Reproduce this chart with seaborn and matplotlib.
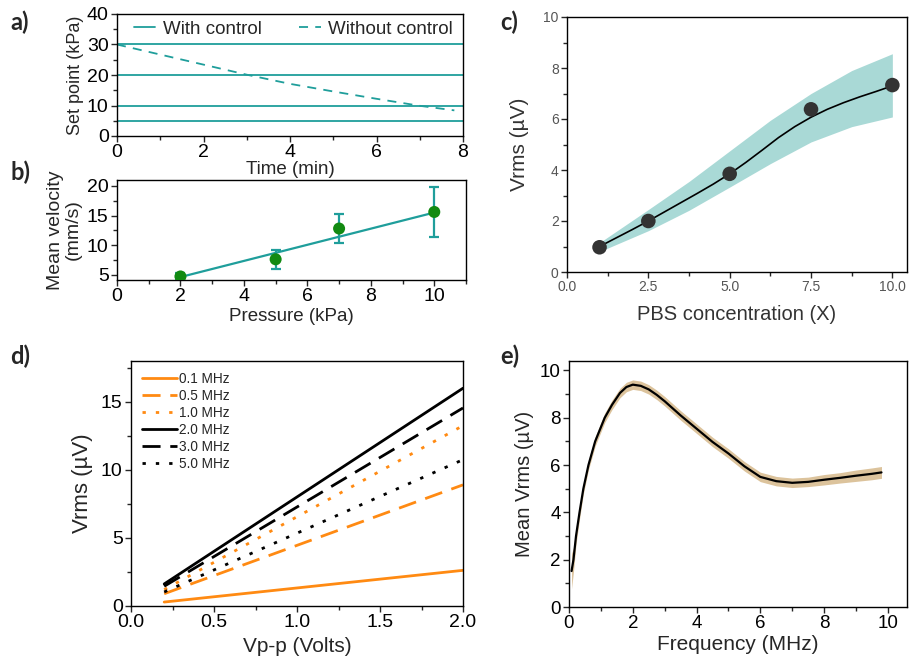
import numpy as np
import pandas as pd
import seaborn as sns
import matplotlib.pyplot as plt
from matplotlib.ticker import MultipleLocator

# ------------------ DATA ------------------
# a) set point vs time
set_points = [30, 20, 10, 5]
time_range = [0, 8]
nocontrol_t = [0, 1, 2, 3, 4, 5, 6, 7, 7.8]
nocontrol_p = [30, 26.7, 23.4, 20.1, 17.1, 14.6, 12.2, 9.9, 8.4]

# b) mean velocity vs pressure
pressure = [2, 5, 7, 10]
velocity = [4.7, 7.6, 12.8, 15.6]
velocity_err = [0.5, 1.6, 2.4, 4.2]
fit_x = [2, 10]
fit_y = [4.6, 15.5]

# c) Vrms vs PBS concentration
pbs_x = [1, 2.5, 5, 7.5, 10]
pbs_y = [0.97, 2.0, 3.85, 6.38, 7.33]
pbs_curve_x = [1, 1.5, 2, 2.5, 3, 3.5, 4, 4.5, 5, 5.5, 6, 6.5, 7, 7.5, 8, 8.5, 9, 9.5, 10]
pbs_curve_y = [1.0, 1.33, 1.66, 2.0, 2.36, 2.72, 3.08, 3.45, 3.85, 4.3, 4.78, 5.27, 5.7, 6.07,
               6.38, 6.64, 6.87, 7.08, 7.3]
pbs_band_x = [1, 2.5, 3.75, 5, 6.25, 7.5, 8.75, 10]
pbs_band_lo = [0.8, 1.62, 2.42, 3.33, 4.25, 5.1, 5.7, 6.08]
pbs_band_hi = [1.15, 2.45, 3.55, 4.75, 5.95, 7.0, 7.9, 8.56]

# d) Vrms vs Vp-p for several frequencies
vpp = [0.2, 2.0]
freq_labels = ['0.1 MHz', '0.5 MHz', '1.0 MHz', '2.0 MHz', '3.0 MHz', '5.0 MHz']
vrms_start = [0.29, 0.9, 1.2, 1.62, 1.45, 1.03]
vrms_end = [2.62, 8.9, 13.25, 16.0, 14.55, 10.75]

# e) mean Vrms vs frequency
freq = [0.08, 0.14, 0.22, 0.33, 0.45, 0.61, 0.82, 1.12, 1.35, 1.6, 1.8, 2.0, 2.25, 2.5, 2.75,
        3.0, 3.5, 4.0, 4.5, 5.0, 5.5, 6.0, 6.5, 7.0, 7.5, 8.0, 8.5, 9.0, 9.5, 9.8]
mean_vrms = [1.52, 2.0, 3.0, 4.0, 5.0, 6.0, 7.0, 8.0, 8.55, 9.05, 9.3, 9.4, 9.35, 9.2, 8.97,
             8.7, 8.1, 7.54, 6.98, 6.49, 5.95, 5.5, 5.32, 5.25, 5.29, 5.38, 5.46, 5.55, 5.63, 5.69]
vrms_err = [0.75, 0.5, 0.35, 0.28, 0.22, 0.2, 0.2, 0.2, 0.2, 0.2, 0.2, 0.2, 0.2, 0.2, 0.2,
            0.2, 0.2, 0.2, 0.2, 0.2, 0.2, 0.2, 0.2, 0.2, 0.2, 0.22, 0.22, 0.24, 0.25, 0.25]

# ------------------ STYLE ------------------
sns.set_style('ticks')
plt.rcParams['font.family'] = ['Liberation Sans', 'DejaVu Sans']
plt.rcParams['xtick.direction'] = 'out'
plt.rcParams['ytick.direction'] = 'out'

TEAL = '#1f9e9b'
ORANGE = '#ff8a12'
W, H = 909, 666
fig = plt.figure(figsize=(W / 100, H / 100), dpi=100)


def rect(l, t, r, b):
    return [l / W, 1 - b / H, (r - l) / W, (b - t) / H]


def style_axes(ax, size=13.5, color='black'):
    for s in ax.spines.values():
        s.set_visible(True)
        s.set_color('black')
        s.set_linewidth(1.0)
    ax.tick_params(which='major', length=4, width=1, labelsize=size, labelcolor=color, pad=2)
    ax.tick_params(which='minor', length=3, width=1, bottom=True, left=True)


# ------------------ a) ------------------
ax = fig.add_axes(rect(117, 14, 463, 136))
for i, sp in enumerate(set_points):
    sns.lineplot(x=time_range, y=[sp, sp], ax=ax, color=TEAL, lw=1.3,
                 label='With control' if i == 0 else None)
sns.lineplot(x=nocontrol_t, y=nocontrol_p, ax=ax, color=TEAL, lw=1.3,
             linestyle=(0, (5, 4)), label='Without control')
ax.set_xlim(0, 8)
ax.set_ylim(0, 40)
ax.xaxis.set_major_locator(MultipleLocator(2))
ax.xaxis.set_minor_locator(MultipleLocator(1))
ax.yaxis.set_major_locator(MultipleLocator(10))
ax.yaxis.set_minor_locator(MultipleLocator(5))
style_axes(ax, 14)
ax.set_xlabel('Time (min)', fontsize=13.5, labelpad=0)
ax.set_ylabel('Set point (kPa)', fontsize=13, labelpad=2)
ax.legend(loc='upper center', ncol=2, frameon=False, fontsize=13.5, handlelength=1.15,
          handletextpad=0.4, columnspacing=2.0, borderaxespad=0.1, bbox_to_anchor=(0.51, 1.02))

# ------------------ b) ------------------
ax = fig.add_axes(rect(117, 180, 466, 280))
sns.lineplot(x=fit_x, y=fit_y, ax=ax, color=TEAL, lw=1.6)
ax.errorbar(pressure, velocity, yerr=velocity_err, fmt='none', ecolor=TEAL,
            elinewidth=1.6, capsize=3.5, capthick=1.6)
sns.scatterplot(x=pressure, y=velocity, ax=ax, color='#128a12', s=75, edgecolor='none', zorder=3)
ax.set_xlim(0, 11)
ax.set_ylim(4.1, 21)
ax.xaxis.set_major_locator(MultipleLocator(2))
ax.xaxis.set_minor_locator(MultipleLocator(1))
ax.yaxis.set_major_locator(MultipleLocator(5))
ax.yaxis.set_minor_locator(MultipleLocator(2.5))
style_axes(ax, 14)
ax.set_xlabel('Pressure (kPa)', fontsize=13.5, labelpad=2)
ax.set_ylabel('Mean velocity\n(mm/s)', fontsize=14, labelpad=4, linespacing=1.0)

# ------------------ c) ------------------
ax = fig.add_axes(rect(567, 17, 907, 272))
ax.fill_between(pbs_band_x, pbs_band_lo, pbs_band_hi, color='#a9d9d6', lw=0)
sns.lineplot(x=pbs_curve_x, y=pbs_curve_y, ax=ax, color='black', lw=1.2)
sns.scatterplot(x=pbs_x, y=pbs_y, ax=ax, color='#333333', s=110, edgecolor='none', zorder=3)
ax.set_xlim(0, 10.45)
ax.set_ylim(0, 10)
ax.xaxis.set_major_locator(MultipleLocator(2.5))
ax.xaxis.set_minor_locator(MultipleLocator(1.25))
ax.yaxis.set_major_locator(MultipleLocator(2))
ax.yaxis.set_minor_locator(MultipleLocator(1))
style_axes(ax, 10, '#555555')
ax.set_xlabel('PBS concentration (X)', fontsize=14.5, color='#333333', labelpad=8)
ax.set_ylabel('Vrms (µV)', fontsize=15, color='#333333', labelpad=10)

# ------------------ d) ------------------
ax = fig.add_axes(rect(131, 361, 463, 606))
colors = [ORANGE, ORANGE, ORANGE, 'black', 'black', 'black']
styles = ['-', (0, (6.5, 3.5)), (0, (1.2, 3.6)), '-', (0, (6.5, 3.5)), (0, (1.2, 3.6))]
for lab, y0, y1, c, ls in zip(freq_labels, vrms_start, vrms_end, colors, styles):
    sns.lineplot(x=vpp, y=[y0, y1], ax=ax, color=c, lw=2.0, linestyle=ls, label=lab)
ax.set_xlim(0, 2)
ax.set_ylim(0, 18)
ax.xaxis.set_major_locator(MultipleLocator(0.5))
ax.xaxis.set_minor_locator(MultipleLocator(0.25))
ax.yaxis.set_major_locator(MultipleLocator(5))
ax.yaxis.set_minor_locator(MultipleLocator(2.5))
style_axes(ax, 14)
ax.set_xlabel('Vp-p (Volts)', fontsize=15, labelpad=4)
ax.set_ylabel('Vrms (µV)', fontsize=16, labelpad=6)
ax.legend(loc='upper left', frameon=False, fontsize=9.8, handlelength=2.6,
          handletextpad=0.15, labelspacing=0.22, borderaxespad=0.4)

# ------------------ e) ------------------
ax = fig.add_axes(rect(569, 361, 907, 607))
lo = [m - e for m, e in zip(mean_vrms, vrms_err)]
hi = [m + e for m, e in zip(mean_vrms, vrms_err)]
ax.fill_between(freq, lo, hi, color='#dcc39c', lw=0)
sns.lineplot(x=freq, y=mean_vrms, ax=ax, color='black', lw=1.6)
ax.set_xlim(0, 10.6)
ax.set_ylim(0, 10.4)
ax.xaxis.set_major_locator(MultipleLocator(2))
ax.xaxis.set_minor_locator(MultipleLocator(1))
ax.yaxis.set_major_locator(MultipleLocator(2))
ax.yaxis.set_minor_locator(MultipleLocator(1))
style_axes(ax, 13.5)
ax.set_xlabel('Frequency (MHz)', fontsize=15, labelpad=2)
ax.set_ylabel('Mean Vrms (µV)', fontsize=14.5, labelpad=4)

# ------------------ panel labels ------------------
for lab, x, y in [('a)', 10, 22), ('b)', 10, 172), ('c)', 500, 22), ('d)', 10, 356), ('e)', 500, 356)]:
    fig.text(x / W, 1 - y / H, lab, fontsize=17, fontweight='bold', va='center', ha='left',
             family=['Lato', 'DejaVu Sans'])

fig.savefig('out.png', dpi=100)
